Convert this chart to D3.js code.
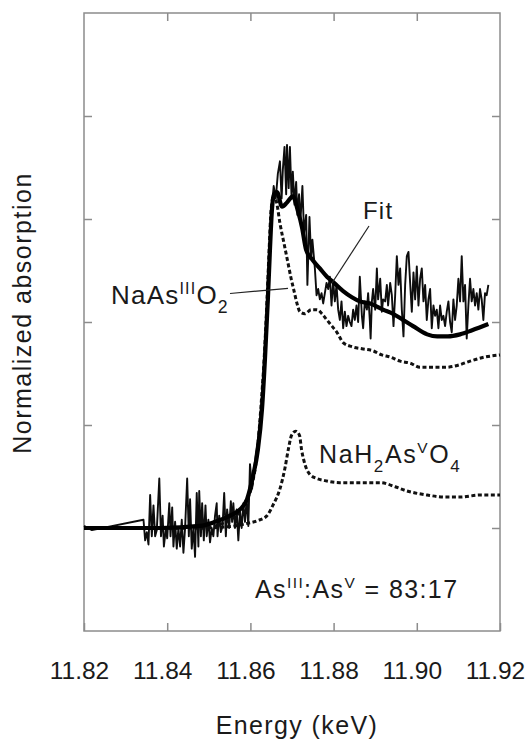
<!DOCTYPE html>
<html>
<head>
<meta charset="utf-8">
<style>
  body { margin: 0; background: #fff; }
  svg text { font-family: "Liberation Sans", Arial, Helvetica, sans-serif; fill: #1a1a1a; }
</style>
<script src="https://d3js.org/d3.v7.min.js"></script>
</head>
<body>
<svg id="chart"></svg>
<script>
  // axis ticks
  const xTickLabels = [11.82, 11.84, 11.86, 11.88, 11.90, 11.92];
  const xInnerTicks = [11.84, 11.86, 11.88, 11.90];
  const yTicks = [0, 0.5, 1.0, 1.5, 2.0];

  // sample spectrum, [energy keV, normalized absorption]
  const sampleData = [
    [11.8200, 0.01], [11.8219, -0.01], [11.8343, 0.04], [11.8347, -0.06], [11.8351, -0.02],
    [11.8355, -0.08], [11.8359, 0.16], [11.8363, -0.04], [11.8367, 0.11], [11.8371, -0.04],
    [11.8375, -0.01], [11.8381, 0.24], [11.8385, -0.04], [11.8389, 0.06], [11.8392, -0.09],
    [11.8397, 0.00], [11.8400, -0.05], [11.8405, 0.12], [11.8408, -0.04], [11.8412, 0.10],
    [11.8415, -0.09], [11.8419, 0.03], [11.8423, -0.10], [11.8427, 0.00], [11.8431, -0.09],
    [11.8435, 0.04], [11.8439, -0.12], [11.8443, 0.00], [11.8448, 0.24], [11.8452, -0.04],
    [11.8455, 0.14], [11.8459, -0.10], [11.8463, 0.00], [11.8467, -0.14], [11.8471, 0.17],
    [11.8475, -0.09], [11.8477, 0.18], [11.8481, -0.04], [11.8484, 0.12], [11.8488, -0.06],
    [11.8492, 0.11], [11.8495, -0.04], [11.8499, 0.04], [11.8503, -0.07], [11.8507, 0.00],
    [11.8511, -0.04], [11.8515, 0.06], [11.8519, 0.12], [11.8521, -0.04], [11.8525, 0.06],
    [11.8529, -0.02], [11.8533, 0.01], [11.8537, 0.17], [11.8541, -0.04], [11.8544, 0.09],
    [11.8549, 0.00], [11.8553, 0.13], [11.8556, 0.03], [11.8559, 0.12], [11.8563, 0.00],
    [11.8567, 0.09], [11.8571, -0.06], [11.8575, 0.08], [11.8579, 0.00], [11.8583, 0.12],
    [11.8587, 0.03], [11.8591, 0.14], [11.8595, 0.01], [11.8599, 0.31], [11.8604, 0.19],
    [11.8609, 0.29], [11.8613, 0.36], [11.8618, 0.43], [11.8623, 0.53], [11.8628, 0.65],
    [11.8633, 0.82], [11.8638, 1.01], [11.8642, 1.21], [11.8647, 1.40], [11.8652, 1.57],
    [11.8656, 1.66], [11.8661, 1.60], [11.8666, 1.72], [11.8671, 1.78], [11.8675, 1.60],
    [11.8678, 1.74], [11.8682, 1.85], [11.8686, 1.62], [11.8688, 1.86], [11.8692, 1.65],
    [11.8695, 1.85], [11.8699, 1.60], [11.8702, 1.73], [11.8706, 1.57], [11.8710, 1.68],
    [11.8713, 1.52], [11.8717, 1.62], [11.8720, 1.48], [11.8725, 1.66], [11.8729, 1.43],
    [11.8734, 1.52], [11.8737, 1.18], [11.8742, 1.51], [11.8746, 1.31], [11.8749, 1.40],
    [11.8755, 1.26], [11.8759, 1.13], [11.8763, 1.16], [11.8767, 1.11], [11.8771, 1.14],
    [11.8775, 1.09], [11.8779, 1.14], [11.8783, 1.19], [11.8787, 1.16], [11.8791, 1.22],
    [11.8795, 1.08], [11.8799, 1.20], [11.8803, 1.10], [11.8807, 1.18], [11.8811, 1.06],
    [11.8815, 1.01], [11.8819, 1.10], [11.8823, 0.97], [11.8827, 1.05], [11.8831, 0.98],
    [11.8835, 1.03], [11.8839, 1.00], [11.8843, 0.98], [11.8847, 1.06], [11.8851, 1.01],
    [11.8855, 1.08], [11.8859, 1.00], [11.8863, 1.22], [11.8868, 1.03], [11.8871, 0.97],
    [11.8875, 1.10], [11.8880, 1.06], [11.8883, 1.14], [11.8887, 1.01], [11.8889, 0.92],
    [11.8892, 1.10], [11.8895, 1.16], [11.8900, 1.06], [11.8904, 1.26], [11.8907, 1.11],
    [11.8912, 1.21], [11.8916, 1.05], [11.8919, 1.11], [11.8924, 1.10], [11.8928, 1.18],
    [11.8931, 1.08], [11.8936, 1.19], [11.8940, 1.13], [11.8944, 0.98], [11.8948, 1.13],
    [11.8952, 1.32], [11.8956, 1.18], [11.8960, 1.26], [11.8964, 1.06], [11.8968, 0.93],
    [11.8972, 1.18], [11.8976, 1.32], [11.8980, 1.34], [11.8984, 1.19], [11.8988, 1.05],
    [11.8992, 1.24], [11.8996, 1.11], [11.9000, 1.27], [11.9004, 1.08], [11.9008, 1.21],
    [11.9012, 1.26], [11.9016, 1.10], [11.9020, 1.18], [11.9024, 1.01], [11.9028, 1.11],
    [11.9032, 1.16], [11.9036, 0.97], [11.9040, 1.08], [11.9044, 1.03], [11.9048, 1.06],
    [11.9052, 0.97], [11.9056, 1.08], [11.9060, 1.01], [11.9064, 1.03], [11.9068, 0.98],
    [11.9072, 1.05], [11.9076, 1.10], [11.9080, 1.00], [11.9084, 0.95], [11.9088, 1.11],
    [11.9092, 1.01], [11.9096, 1.08], [11.9100, 1.21], [11.9104, 1.10], [11.9108, 1.32],
    [11.9112, 1.10], [11.9116, 1.18], [11.9120, 0.92], [11.9124, 1.08], [11.9128, 1.21],
    [11.9132, 1.10], [11.9136, 1.16], [11.9140, 1.08], [11.9144, 1.14], [11.9148, 1.06],
    [11.9152, 1.16], [11.9156, 1.11], [11.9160, 1.01], [11.9164, 1.14], [11.9168, 1.13],
    [11.9172, 1.18]
  ];

  // linear combination fit
  const fitData = [
    [11.8200, 0.00], [11.8287, 0.00], [11.8383, 0.00], [11.8479, 0.01], [11.8515, 0.03],
    [11.8551, 0.06], [11.8575, 0.09], [11.8592, 0.14], [11.8606, 0.25], [11.8618, 0.38],
    [11.8628, 0.58], [11.8635, 0.82], [11.8642, 1.11], [11.8647, 1.35], [11.8652, 1.55],
    [11.8657, 1.62], [11.8664, 1.63], [11.8676, 1.56], [11.8688, 1.58], [11.8702, 1.61],
    [11.8714, 1.54], [11.8724, 1.46], [11.8734, 1.35], [11.8750, 1.30], [11.8767, 1.26],
    [11.8784, 1.22], [11.8801, 1.19], [11.8823, 1.15], [11.8844, 1.12], [11.8863, 1.10],
    [11.8888, 1.09], [11.8919, 1.06], [11.8943, 1.04], [11.8967, 1.01], [11.8991, 0.98],
    [11.9025, 0.94], [11.9049, 0.93], [11.9075, 0.93], [11.9104, 0.94], [11.9133, 0.96],
    [11.9172, 0.99]
  ];

  // NaAs(III)O2 reference
  const as3Data = [
    [11.8200, 0.00], [11.8479, 0.00], [11.8551, 0.04], [11.8587, 0.12], [11.8604, 0.21],
    [11.8616, 0.36], [11.8625, 0.58], [11.8633, 0.82], [11.8640, 1.11], [11.8645, 1.35],
    [11.8650, 1.55], [11.8657, 1.62], [11.8664, 1.57], [11.8671, 1.48], [11.8681, 1.38],
    [11.8690, 1.29], [11.8698, 1.21], [11.8705, 1.15], [11.8712, 1.09], [11.8719, 1.05],
    [11.8731, 1.04], [11.8746, 1.06], [11.8760, 1.06], [11.8772, 1.04], [11.8784, 1.01],
    [11.8796, 0.98], [11.8808, 0.95], [11.8823, 0.90], [11.8844, 0.88], [11.8868, 0.87],
    [11.8895, 0.86], [11.8916, 0.84], [11.8936, 0.83], [11.8960, 0.81], [11.8984, 0.80],
    [11.9008, 0.78], [11.9037, 0.78], [11.9068, 0.78], [11.9099, 0.79], [11.9128, 0.81],
    [11.9164, 0.83], [11.9200, 0.84]
  ];

  // NaH2As(V)O4 reference
  const as5Data = [
    [11.8200, 0.00], [11.8479, 0.00], [11.8563, 0.01], [11.8587, 0.02], [11.8616, 0.035],
    [11.8640, 0.06], [11.8654, 0.11], [11.8671, 0.19], [11.8683, 0.29], [11.8691, 0.38],
    [11.8699, 0.45], [11.8709, 0.47], [11.8718, 0.45], [11.8723, 0.38], [11.8731, 0.31],
    [11.8743, 0.26], [11.8760, 0.24], [11.8779, 0.23], [11.8815, 0.22], [11.8863, 0.22],
    [11.8912, 0.22], [11.8948, 0.20], [11.8976, 0.18], [11.9025, 0.16], [11.9068, 0.15],
    [11.9104, 0.15], [11.9152, 0.16], [11.9200, 0.16]
  ];

  const width = 531, height = 740;
  const plot = { left: 84, right: 500, top: 13, bottom: 631 };
  const frameColor = "#8c8c8c";

  const svg = d3.select("#chart").attr("width", width).attr("height", height);

  const x = d3.scaleLinear().domain([11.82, 11.92]).range([plot.left, plot.right]);
  const y = d3.scaleLinear().domain([-0.5, 2.5]).range([plot.bottom, plot.top]);

  // frame
  svg.append("rect")
    .attr("x", plot.left).attr("y", plot.top)
    .attr("width", plot.right - plot.left).attr("height", plot.bottom - plot.top)
    .attr("fill", "none").attr("stroke", frameColor).attr("stroke-width", 1.5);

  function styleAxis(g) {
    g.select(".domain").remove();
    g.selectAll(".tick line").attr("stroke", frameColor).attr("stroke-width", 1.5);
  }

  // inward ticks on all four sides
  const bottomAxis = svg.append("g")
    .attr("transform", `translate(0,${plot.bottom})`)
    .call(d3.axisBottom(x).tickValues(xTickLabels).tickSize(-8).tickPadding(31).tickFormat(d3.format(".2f")))
    .call(styleAxis);
  bottomAxis.selectAll(".tick text")
    .attr("font-size", 24.5).attr("font-family", null).attr("fill", "#1a1a1a").attr("dx", -5);

  svg.append("g").attr("transform", `translate(0,${plot.top})`)
    .call(d3.axisTop(x).tickValues(xInnerTicks).tickSize(-8).tickFormat(""))
    .call(styleAxis);
  svg.append("g").attr("transform", `translate(${plot.left},0)`)
    .call(d3.axisLeft(y).tickValues(yTicks).tickSize(-8).tickFormat(""))
    .call(styleAxis);
  svg.append("g").attr("transform", `translate(${plot.right},0)`)
    .call(d3.axisRight(y).tickValues(yTicks).tickSize(-8).tickFormat(""))
    .call(styleAxis);

  // axis titles
  svg.append("text")
    .attr("x", 297).attr("y", 734)
    .attr("text-anchor", "middle").attr("font-size", 25).attr("letter-spacing", 1.4)
    .text("Energy (keV)");
  svg.append("text")
    .attr("transform", "translate(31,313) rotate(-90)")
    .attr("text-anchor", "middle").attr("font-size", 25).attr("letter-spacing", 1.5)
    .text("Normalized absorption");

  const line = d3.line().x(d => x(d[0])).y(d => y(d[1]));
  const smooth = d3.line().x(d => x(d[0])).y(d => y(d[1])).curve(d3.curveMonotoneX);

  const curves = svg.append("g");
  curves.append("path").datum(as5Data).attr("d", smooth)
    .attr("fill", "none").attr("stroke", "#111").attr("stroke-width", 3)
    .attr("stroke-dasharray", "4,2.5");
  curves.append("path").datum(as3Data).attr("d", smooth)
    .attr("fill", "none").attr("stroke", "#111").attr("stroke-width", 3)
    .attr("stroke-dasharray", "4,2.5");
  curves.append("path").datum(sampleData).attr("d", line)
    .attr("fill", "none").attr("stroke", "#0d0d0d").attr("stroke-width", 1.9)
    .attr("stroke-linejoin", "round");
  curves.append("path").datum(fitData).attr("d", smooth)
    .attr("fill", "none").attr("stroke", "#000").attr("stroke-width", 4.2)
    .attr("stroke-linejoin", "round");

  // rich labels with sub/superscripts
  function richText(px, py, size, parts, spacing) {
    const t = svg.append("text").attr("x", px).attr("y", py)
      .attr("font-size", size).attr("letter-spacing", spacing);
    let shift = 0;
    parts.forEach(([s, kind]) => {
      let target = 0, fs = size;
      if (kind === "sup") { target = -0.4 * size; fs = size * 0.62; }
      if (kind === "sub") { target = 0.36 * size; fs = size * 0.68; }
      t.append("tspan").attr("dy", target - shift).attr("font-size", fs).text(s);
      shift = target;
    });
    return t;
  }

  svg.append("text").attr("x", 363).attr("y", 219).attr("font-size", 24).attr("letter-spacing", 1.2).text("Fit");
  svg.append("line").attr("x1", 369).attr("y1", 226).attr("x2", 332).attr("y2", 283)
    .attr("stroke", "#222").attr("stroke-width", 1.2);

  richText(111, 304, 26, [["NaAs", ""], ["III", "sup"], ["O", ""], ["2", "sub"]], 1.2);
  svg.append("line").attr("x1", 230).attr("y1", 293.5).attr("x2", 288).attr("y2", 288.3)
    .attr("stroke", "#222").attr("stroke-width", 1.2);

  richText(319, 463, 25, [["NaH", ""], ["2", "sub"], ["As", ""], ["V", "sup"], ["O", ""], ["4", "sub"]], 1.6);
  richText(255, 598, 25, [["As", ""], ["III", "sup"], [":As", ""], ["V", "sup"], [" = 83:17", ""]], 1.4);
</script>
</body>
</html>
